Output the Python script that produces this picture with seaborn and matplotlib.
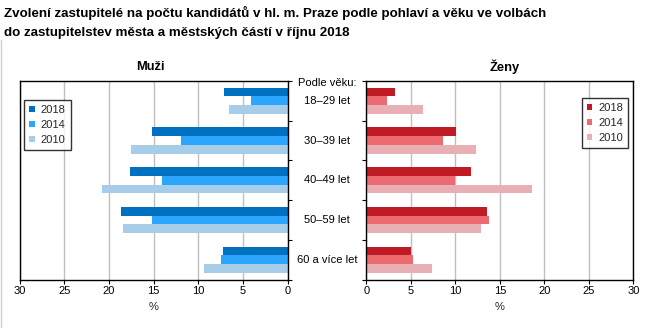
import matplotlib
matplotlib.use("Agg")
import matplotlib.pyplot as plt
import matplotlib.transforms as mtransforms
from matplotlib.lines import Line2D
import seaborn as sns
import pandas as pd

# ---- data ----
age_groups = ["18–29 let", "30–39 let", "40–49 let", "50–59 let", "60 a více let"]
years = ["2018", "2014", "2010"]
men_2018 = [7.1, 15.2, 17.6, 18.6, 7.2]
men_2014 = [4.1, 11.9, 14.1, 15.2, 7.4]
men_2010 = [6.6, 17.5, 20.8, 18.4, 9.3]
women_2018 = [3.2, 10.1, 11.8, 13.6, 5.0]
women_2014 = [2.3, 8.6, 10.0, 13.8, 5.2]
women_2010 = [6.4, 12.3, 18.6, 12.9, 7.4]
x_ticks = [0, 5, 10, 15, 20, 25, 30]

title = ("Zvolení zastupitelé na počtu kandidátů v hl. m. Praze podle pohlaví a věku ve volbách\n"
         "do zastupitelstev města a městských částí v říjnu 2018")

men_colors = ["#0070C0", "#2BA6FF", "#A7CDE8"]
women_colors = ["#C01B24", "#EC6B71", "#E8B0B4"]


def long_df(series):
    rows = []
    for yr, vals in zip(years, series):
        for g, v in zip(age_groups, vals):
            rows.append({"age": g, "year": yr, "value": v})
    return pd.DataFrame(rows)


men_df = long_df([men_2018, men_2014, men_2010])
women_df = long_df([women_2018, women_2014, women_2010])

sns.set_theme(style="white")
plt.rcParams["font.family"] = ["Liberation Sans", "DejaVu Sans"]

W, H = 652, 328
fig = plt.figure(figsize=(W / 100, H / 100), dpi=100)

top_px, bot_px = 81, 279.5
axL = fig.add_axes([19.5 / W, 1 - bot_px / H, (287.5 - 19.5) / W, (bot_px - top_px) / H])
axR = fig.add_axes([366.3 / W, 1 - bot_px / H, (633.3 - 366.3) / W, (bot_px - top_px) / H])

for ax, df, cols in [(axL, men_df, men_colors), (axR, women_df, women_colors)]:
    sns.barplot(data=df, y="age", x="value", hue="year", order=age_groups,
                hue_order=years, palette=cols, orient="h", width=0.66,
                saturation=1, ax=ax, legend=True)
    ax.set_xlim(0, 30)
    ax.set_ylim(4.5, -0.5)
    ax.set_xticks(x_ticks)
    ax.set_xticklabels([str(t) for t in x_ticks], fontsize=8)
    ax.set_yticks([-0.5, 0.5, 1.5, 2.5, 3.5, 4.5])
    ax.set_yticklabels([])
    ax.set_ylabel("")
    ax.set_xlabel("%", fontsize=8, labelpad=4)
    ax.grid(axis="x", color="#BFBFBF", linewidth=1)
    ax.grid(axis="y", visible=False)
    ax.set_axisbelow(True)
    for s in ax.spines.values():
        s.set_color("black")
        s.set_linewidth(1.0)
        s.set_visible(True)
    ax.tick_params(axis="both", direction="out", length=3, width=0.8, color="black",
                   pad=2, labelcolor="black")
    ax.tick_params(axis="x", bottom=True)
    for p in ax.patches:
        p.set_edgecolor("none")
        p.set_linewidth(0)

axL.set_xlim(30, 0)
axL.yaxis.tick_right()
axL.tick_params(axis="y", left=False, right=True)
axR.tick_params(axis="y", left=True, right=False)

legkw = dict(fontsize=8, frameon=True, fancybox=False, edgecolor="black",
             handlelength=0.5, handleheight=0.5, handletextpad=0.55,
             labelspacing=0.45, borderpad=0.45, borderaxespad=0)
h, l = axL.get_legend_handles_labels()
legL = axL.legend(h, l, loc="upper left", bbox_to_anchor=(0.017, 0.905), **legkw)
h, l = axR.get_legend_handles_labels()
legR = axR.legend(h, l, loc="upper right", bbox_to_anchor=(0.981, 0.915), **legkw)
for leg in (legL, legR):
    leg.get_frame().set_linewidth(1.0)

# centre labels
tr = mtransforms.blended_transform_factory(fig.transFigure, axL.transData)
for i, g in enumerate(age_groups):
    fig.text(327 / W, i, g, transform=tr, ha="center", va="center", fontsize=8, color="black")
fig.text(327 / W, -0.45, "Podle věku:", transform=tr, ha="center", va="center",
         fontsize=8, color="black")

# headings
fig.text(150 / W, 1 - 67 / H, "Muži", ha="center", va="center", fontsize=9.3,
         fontweight="bold", color="black")
fig.text(505 / W, 1 - 67 / H, "Ženy", ha="center", va="center", fontsize=9.3,
         fontweight="bold", color="black")
fig.text(4 / W, 1 - 13 / H, title.split("\n")[0], ha="left", va="center", fontsize=9.6,
         fontweight="bold", color="black")
fig.text(4 / W, 1 - 33 / H, title.split("\n")[1], ha="left", va="center", fontsize=9.6,
         fontweight="bold", color="black")

fig.add_artist(Line2D([0.5 / W, 0.5 / W], [0, 1 - 40 / H], transform=fig.transFigure,
                      color="#D0D0D0", linewidth=1))

fig.savefig("out.png", dpi=100)
